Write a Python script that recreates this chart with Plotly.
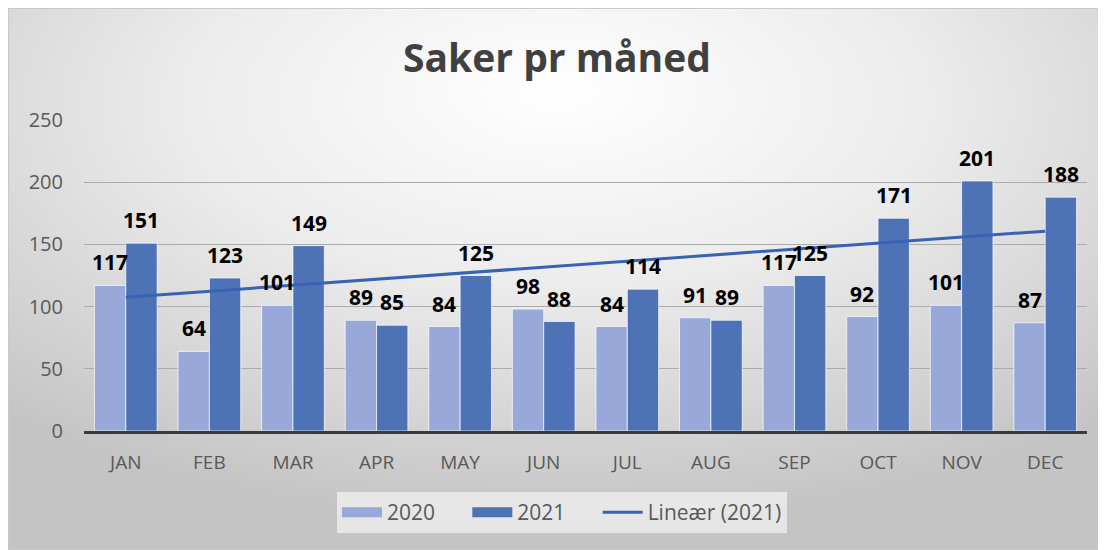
import base64
import numpy as np
import plotly.graph_objects as go

# månedlige saker
months = ["JAN", "FEB", "MAR", "APR", "MAY", "JUN", "JUL", "AUG", "SEP", "OCT", "NOV", "DEC"]
cases_2020 = [117, 64, 101, 89, 84, 98, 84, 91, 117, 92, 101, 87]
cases_2021 = [151, 123, 149, 85, 125, 88, 114, 89, 125, 171, 201, 188]
y_ticks = [0, 50, 100, 150, 200, 250]

# linear trendline for 2021, like Excel does it
xs = np.arange(1, len(cases_2021) + 1)
slope, intercept = np.polyfit(xs, cases_2021, 1)
trend = slope * xs + intercept

# the page puts the figure 8px in from top/left, so size it to fit
W, H = 1098, 542

# radial gradient background (Excel style)
svg = f"""<svg xmlns='http://www.w3.org/2000/svg' width='{W}' height='{H}' preserveAspectRatio='none'>
<defs><radialGradient id='g' cx='0.5' cy='0.2' r='0.75' fx='0.5' fy='0.15'>
<stop offset='0' stop-color='#ffffff'/>
<stop offset='0.45' stop-color='#ececec'/>
<stop offset='1' stop-color='#c4c4c4'/>
</radialGradient></defs>
<rect x='0' y='0' width='{W}' height='{H}' fill='url(#g)' stroke='#c9c9c9' stroke-width='2'/>
</svg>"""
bg_src = "data:image/svg+xml;base64," + base64.b64encode(svg.encode()).decode()

font = "Open Sans"
c2020, c2021, ctrend = "#98a9d9", "#4d72b6", "#3a62b3"
L, R, T, B = 76, 19, 112, 119
pw, ph = W - L - R, H - T - B
bargap = 0.25
bar_px = pw / len(months) * (1 - bargap) / 2  # width of one bar in px
gap = "\u00a0" * 5  # spacing between legend entries

fig = go.Figure()
fig.add_trace(go.Bar(
    x=months, y=cases_2020, name="2020", showlegend=False,
    marker=dict(color=c2020, line=dict(color="rgba(255,255,255,0.7)", width=1)),
))
fig.add_trace(go.Bar(
    x=months, y=cases_2021, name="2021", showlegend=False,
    marker=dict(color=c2021, line=dict(color="rgba(255,255,255,0.7)", width=1)),
))
fig.add_trace(go.Scatter(
    x=months, y=trend, name="Lineær (2021)", mode="lines", showlegend=False,
    line=dict(color=ctrend, width=3), cliponaxis=False,
))
# legend entries with wide swatches like Excel
for name, col, w in (("2020" + gap, c2020, 12), ("2021" + gap, c2021, 12), ("Lineær (2021)", ctrend, 3)):
    fig.add_trace(go.Scatter(x=[None], y=[None], name=name, mode="lines", line=dict(color=col, width=w)))

# data labels above each bar
for vals, side in ((cases_2020, -1), (cases_2021, 1)):
    for m, v in zip(months, vals):
        fig.add_annotation(x=m, y=v, text=f"<b>{v}</b>", showarrow=False,
                           xshift=side * bar_px / 2, yshift=7, yanchor="bottom",
                           font=dict(family=font, size=21, color="#000000"))

fig.update_layout(
    width=W, height=H,
    margin=dict(l=L, r=R, t=T, b=B),
    paper_bgcolor="white", plot_bgcolor="rgba(0,0,0,0)",
    barmode="group", bargap=bargap, bargroupgap=0.0,
    title=dict(text="<b>Saker pr måned</b>", x=0.5, xanchor="center", y=1 - 50 / H, yanchor="middle",
               font=dict(family=font, size=39, color="#404040")),
    font=dict(family=font, color="#595959"),
    showlegend=True,
    legend=dict(orientation="h", x=(554 - L) / pw, xanchor="center", y=-(484 - (H - B)) / ph, yanchor="top",
                bgcolor="rgba(236,236,236,0.85)", font=dict(family=font, size=21, color="#595959"),
                itemwidth=40, traceorder="normal"),
    images=[dict(source=bg_src, xref="paper", yref="paper",
                 x=-L / pw, y=1 + T / ph, sizex=W / pw, sizey=H / ph,
                 xanchor="left", yanchor="top", sizing="stretch", layer="below")],
)
fig.update_xaxes(showgrid=False, ticks="", tickfont=dict(family=font, size=19, color="#595959"),
                 showline=True, linecolor="#3a3a3a", linewidth=3, ticklabelstandoff=12)
fig.update_yaxes(range=[0, 250], tickvals=y_ticks, showgrid=True, gridcolor="#ababab", gridwidth=1,
                 zeroline=False, tickfont=dict(family=font, size=20, color="#595959"), ticklabelstandoff=20)

fig.write_html("out.html")
